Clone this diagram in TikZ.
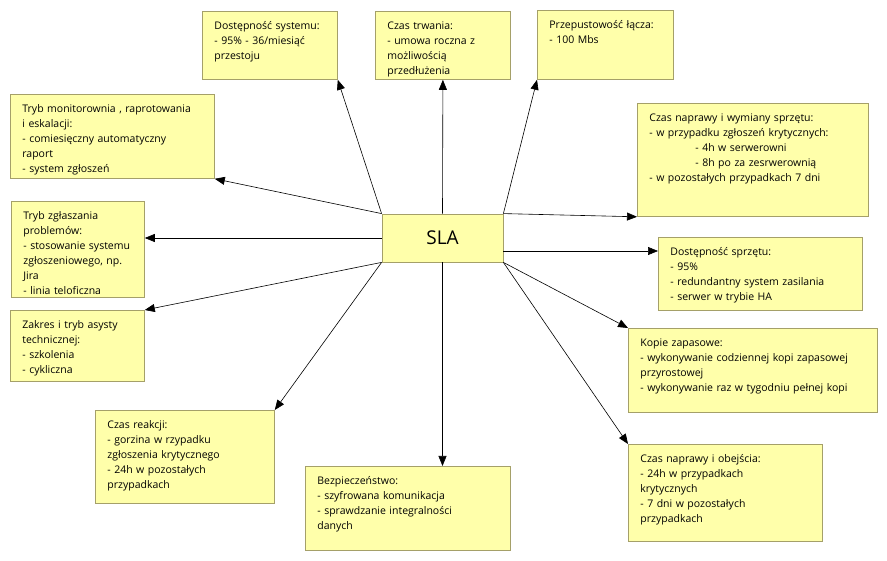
\documentclass[tikz,border=0pt]{standalone}
\usepackage{fontspec}
\setmainfont{Open Sans}
\usepackage{tikz}
\usetikzlibrary{arrows.meta}
\definecolor{notefill}{RGB}{255, 255, 170}
\definecolor{noteline}{RGB}{165, 160, 105}

\begin{document}
\begin{tikzpicture}[x=1pt, y=-1pt,
  note/.style={draw=noteline, fill=notefill, line width=0.8pt, anchor=north west,
    align=left, inner xsep=12pt, inner ysep=4pt, text height=14pt,
    font=\fontsize{10.5}{15}\selectfont},
  hub/.style={draw=noteline, fill=notefill, line width=0.8pt,
    minimum width=121pt, minimum height=48pt, font=\fontsize{19}{22}\selectfont},
  link/.style={-{Triangle[length=10pt, width=8pt]}, line width=0.6pt}]
\useasboundingbox (0,0) rectangle (887,561);

\node[hub] (sla) at (442.5,238) {SLA};

% left side
\node[note, text width=180pt, text depth=62pt] (monit) at (10,94)
  {Tryb monitorownia , raprotowania\\ i eskalacji:\\ - comiesięczny automatyczny\\ raport\\ - system zgłoszeń};
\node[note, text width=109pt, text depth=74pt] (zgl) at (11,201)
  {Tryb zgłaszania\\ problemów:\\ - stosowanie systemu\\ zgłoszeniowego, np.\\ Jira\\ - linia teloficzna};
\node[note, text width=110pt, text depth=49pt] (zak) at (10,310)
  {Zakres i tryb asysty\\ technicznej:\\ - szkolenia\\ - cykliczna};
\node[note, text width=155pt, text depth=71pt] (reak) at (95,410)
  {Czas reakcji:\\ - gorzina w rzypadku\\ zgłoszenia krytycznego\\ - 24h w pozostałych\\ przypadkach};
\node[note, text width=181pt, text depth=62pt] (bezp) at (305,466)
  {Bezpieczeństwo:\\ - szyfrowana komunikacja\\ - sprawdzanie integralności\\ danych};

% top
\node[note, text width=111pt, text depth=46pt] (dsys) at (202,11)
  {Dostępność systemu:\\ - 95\% - 36/miesiąć\\ przestoju};
\node[note, text width=111pt, text depth=46pt] (ctrw) at (375,11)
  {Czas trwania:\\ - umowa roczna z\\ możliwością\\ przedłużenia};
\node[note, text width=112pt, text depth=47pt] (przep) at (537,10)
  {Przepustowość łącza:\\ - 100 Mbs};

% right side
\node[note, text width=207pt, text depth=91pt] (napr) at (637,103)
  {Czas naprawy i wymiany sprzętu:\\ - w przypadku zgłoszeń krytycznych:\\
   \hspace*{46pt}- 4h w serwerowni\\ \hspace*{46pt}- 8h po za zesrwerownią\\
   - w pozostałych przypadkach 7 dni};
\node[note, text width=180pt, text depth=51pt] (dsprz) at (658,237)
  {Dostępność sprzętu:\\ - 95\%\\ - redundantny system zasilania\\ - serwer w trybie HA};
\node[note, text width=225pt, text depth=62pt] (kop) at (628,328)
  {Kopie zapasowe:\\ - wykonywanie codziennej kopi zapasowej\\ przyrostowej\\ - wykonywanie raz w tygodniu pełnej kopi};
\node[note, text width=170pt, text depth=75pt] (obej) at (628,444)
  {Czas naprawy i obejścia:\\ - 24h w przypadkach\\ krytycznych\\ - 7 dni w pozostałych\\ przypadkach};

\draw[link] (sla.north west) -- (dsys.south east);
\draw[link] (sla.north) -- (ctrw.south);
\draw[link] (sla.north east) -- (przep.south west);
\draw[link] (sla.north west) -- (monit.south east);
\draw[link] (sla.north east) -- (napr.south west);
\draw[link] (sla.west) -- (sla.west -| zgl.east);
\draw[link] ([yshift=-13pt]sla.east) -- ([yshift=-13pt]sla.east -| dsprz.west);
\draw[link] (sla.south west) -- (zak.north east);
\draw[link] (sla.south west) -- (reak.north east);
\draw[link] (sla.south) -- (sla.south |- bezp.north);
\draw[link] (sla.south east) -- (kop.north west);
\draw[link] (sla.south east) -- (obej.north west);
\end{tikzpicture}
\end{document}
